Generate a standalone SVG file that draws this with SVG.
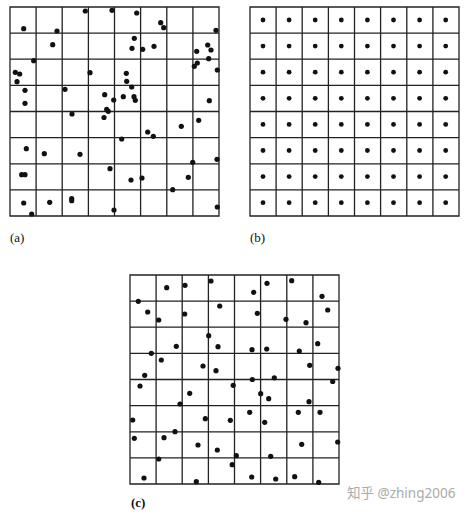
<svg xmlns="http://www.w3.org/2000/svg" width="467" height="518" viewBox="0 0 467 518">
<defs>
<style>
.grid{fill:none;stroke:#222;stroke-width:1.3}
.d{fill:#111}
.d circle{r:2.6px}
.db circle{fill:#111;r:2.4px}
.lbl{font-family:"Liberation Serif",serif;font-size:13px;fill:#111}
.wm{font-family:"Noto Sans","Noto Sans CJK SC",sans-serif;font-size:13.5px;fill:#aaa}
</style>
<path id="g8" d="M0,0H209V209H0Z M26.1,0V209 M52.2,0V209 M78.4,0V209 M104.5,0V209 M130.6,0V209 M156.8,0V209 M182.9,0V209 M0,26.1H209 M0,52.2H209 M0,78.4H209 M0,104.5H209 M0,130.6H209 M0,156.8H209 M0,182.9H209"/>
</defs>
<rect width="467" height="518" fill="#fff"/>
<g id="grid-a">
<use href="#g8" x="10" y="7" class="grid"/>
<g class="d">
<circle cx="85.3" cy="11" r="2.6"/><circle cx="112" cy="10.3" r="2.6"/><circle cx="23.7" cy="28.7" r="2.6"/><circle cx="57" cy="31" r="2.6"/><circle cx="52.7" cy="44.7" r="2.6"/><circle cx="33.7" cy="60.7" r="2.6"/><circle cx="15.3" cy="72.3" r="2.6"/><circle cx="19.7" cy="74" r="2.6"/><circle cx="17" cy="81.7" r="2.6"/><circle cx="90" cy="72.7" r="2.6"/><circle cx="25" cy="90.3" r="2.6"/><circle cx="65" cy="89.3" r="2.6"/><circle cx="104.7" cy="94.7" r="2.6"/><circle cx="113.7" cy="100" r="2.6"/><circle cx="25" cy="103.3" r="2.6"/><circle cx="106.7" cy="109.3" r="2.6"/><circle cx="108.3" cy="111.3" r="2.6"/><circle cx="72" cy="114" r="2.6"/><circle cx="104" cy="117.5" r="2.6"/>
<circle cx="136.7" cy="13" r="2.6"/><circle cx="160.7" cy="22.7" r="2.6"/><circle cx="163.7" cy="27.7" r="2.6"/><circle cx="216" cy="30.3" r="2.6"/><circle cx="134.3" cy="38.3" r="2.6"/><circle cx="132" cy="48.3" r="2.6"/><circle cx="142.7" cy="49.3" r="2.6"/><circle cx="154" cy="46.3" r="2.6"/><circle cx="207.7" cy="45" r="2.6"/><circle cx="211" cy="50" r="2.6"/><circle cx="196.7" cy="51.3" r="2.6"/><circle cx="208.7" cy="58.7" r="2.6"/><circle cx="197.3" cy="63" r="2.6"/><circle cx="194.3" cy="66.3" r="2.6"/><circle cx="217.3" cy="70" r="2.6"/><circle cx="126.3" cy="73.3" r="2.6"/><circle cx="126.7" cy="81.3" r="2.6"/><circle cx="131.7" cy="87" r="2.6"/><circle cx="123.3" cy="96.7" r="2.6"/><circle cx="134" cy="96.7" r="2.6"/><circle cx="135.3" cy="100.3" r="2.6"/><circle cx="209.3" cy="100.7" r="2.6"/>
<circle cx="26.3" cy="148.7" r="2.6"/><circle cx="44.3" cy="153.7" r="2.6"/><circle cx="80" cy="154.3" r="2.6"/><circle cx="110" cy="168.7" r="2.6"/><circle cx="21.7" cy="174.7" r="2.6"/><circle cx="25" cy="174.7" r="2.6"/><circle cx="23.7" cy="203" r="2.6"/><circle cx="49.7" cy="202.3" r="2.6"/><circle cx="71.7" cy="198.7" r="2.6"/><circle cx="71.7" cy="200.7" r="2.6"/><circle cx="114" cy="210" r="2.6"/><circle cx="31.7" cy="214" r="2.6"/>
<circle cx="198.7" cy="120.3" r="2.6"/><circle cx="181.3" cy="126.3" r="2.6"/><circle cx="147.7" cy="132" r="2.6"/><circle cx="153.3" cy="136.3" r="2.6"/><circle cx="121.7" cy="139" r="2.6"/><circle cx="217" cy="159.3" r="2.6"/><circle cx="192.7" cy="162.3" r="2.6"/><circle cx="131" cy="180" r="2.6"/><circle cx="142" cy="178" r="2.6"/><circle cx="188.3" cy="177.3" r="2.6"/><circle cx="172.7" cy="189.7" r="2.6"/><circle cx="217.3" cy="207" r="2.6"/>
</g>
<text class="lbl" x="10" y="242">(a)</text>
</g>
<g id="grid-b">
<use href="#g8" x="250" y="7" class="grid"/>
<g class="db">
<circle cx="263" cy="20" r="2.4"/><circle cx="289.1" cy="20" r="2.4"/><circle cx="315.2" cy="20" r="2.4"/><circle cx="341.3" cy="20" r="2.4"/><circle cx="367.4" cy="20" r="2.4"/><circle cx="393.5" cy="20" r="2.4"/><circle cx="419.6" cy="20" r="2.4"/><circle cx="445.7" cy="20" r="2.4"/>
<circle cx="263" cy="46.1" r="2.4"/><circle cx="289.1" cy="46.1" r="2.4"/><circle cx="315.2" cy="46.1" r="2.4"/><circle cx="341.3" cy="46.1" r="2.4"/><circle cx="367.4" cy="46.1" r="2.4"/><circle cx="393.5" cy="46.1" r="2.4"/><circle cx="419.6" cy="46.1" r="2.4"/><circle cx="445.7" cy="46.1" r="2.4"/>
<circle cx="263" cy="72.2" r="2.4"/><circle cx="289.1" cy="72.2" r="2.4"/><circle cx="315.2" cy="72.2" r="2.4"/><circle cx="341.3" cy="72.2" r="2.4"/><circle cx="367.4" cy="72.2" r="2.4"/><circle cx="393.5" cy="72.2" r="2.4"/><circle cx="419.6" cy="72.2" r="2.4"/><circle cx="445.7" cy="72.2" r="2.4"/>
<circle cx="263" cy="98.3" r="2.4"/><circle cx="289.1" cy="98.3" r="2.4"/><circle cx="315.2" cy="98.3" r="2.4"/><circle cx="341.3" cy="98.3" r="2.4"/><circle cx="367.4" cy="98.3" r="2.4"/><circle cx="393.5" cy="98.3" r="2.4"/><circle cx="419.6" cy="98.3" r="2.4"/><circle cx="445.7" cy="98.3" r="2.4"/>
<circle cx="263" cy="124.4" r="2.4"/><circle cx="289.1" cy="124.4" r="2.4"/><circle cx="315.2" cy="124.4" r="2.4"/><circle cx="341.3" cy="124.4" r="2.4"/><circle cx="367.4" cy="124.4" r="2.4"/><circle cx="393.5" cy="124.4" r="2.4"/><circle cx="419.6" cy="124.4" r="2.4"/><circle cx="445.7" cy="124.4" r="2.4"/>
<circle cx="263" cy="150.5" r="2.4"/><circle cx="289.1" cy="150.5" r="2.4"/><circle cx="315.2" cy="150.5" r="2.4"/><circle cx="341.3" cy="150.5" r="2.4"/><circle cx="367.4" cy="150.5" r="2.4"/><circle cx="393.5" cy="150.5" r="2.4"/><circle cx="419.6" cy="150.5" r="2.4"/><circle cx="445.7" cy="150.5" r="2.4"/>
<circle cx="263" cy="176.6" r="2.4"/><circle cx="289.1" cy="176.6" r="2.4"/><circle cx="315.2" cy="176.6" r="2.4"/><circle cx="341.3" cy="176.6" r="2.4"/><circle cx="367.4" cy="176.6" r="2.4"/><circle cx="393.5" cy="176.6" r="2.4"/><circle cx="419.6" cy="176.6" r="2.4"/><circle cx="445.7" cy="176.6" r="2.4"/>
<circle cx="263" cy="202.7" r="2.4"/><circle cx="289.1" cy="202.7" r="2.4"/><circle cx="315.2" cy="202.7" r="2.4"/><circle cx="341.3" cy="202.7" r="2.4"/><circle cx="367.4" cy="202.7" r="2.4"/><circle cx="393.5" cy="202.7" r="2.4"/><circle cx="419.6" cy="202.7" r="2.4"/><circle cx="445.7" cy="202.7" r="2.4"/>
</g>
<text class="lbl" x="250" y="242">(b)</text>
</g>
<g id="grid-c">
<use href="#g8" x="130" y="275" class="grid"/>
<g class="d">
<circle cx="166.7" cy="287.7" r="2.6"/><circle cx="185" cy="285.3" r="2.6"/><circle cx="211" cy="281" r="2.6"/><circle cx="138.3" cy="301.3" r="2.6"/><circle cx="147.7" cy="312" r="2.6"/><circle cx="158.7" cy="320" r="2.6"/><circle cx="184.7" cy="314" r="2.6"/><circle cx="219.7" cy="306" r="2.6"/><circle cx="208.7" cy="335.7" r="2.6"/><circle cx="218" cy="346.7" r="2.6"/><circle cx="176.3" cy="346.3" r="2.6"/><circle cx="151.3" cy="353.3" r="2.6"/><circle cx="161.3" cy="360" r="2.6"/><circle cx="203" cy="366" r="2.6"/><circle cx="216" cy="370.7" r="2.6"/><circle cx="144.7" cy="375.3" r="2.6"/>
<circle cx="267" cy="283.3" r="2.6"/><circle cx="291.7" cy="280.7" r="2.6"/><circle cx="253.7" cy="292.3" r="2.6"/><circle cx="322" cy="296.3" r="2.6"/><circle cx="327.7" cy="310" r="2.6"/><circle cx="257.3" cy="313.3" r="2.6"/><circle cx="286" cy="319.3" r="2.6"/><circle cx="306" cy="322.7" r="2.6"/><circle cx="252" cy="349.7" r="2.6"/><circle cx="266.7" cy="349" r="2.6"/><circle cx="299.3" cy="351" r="2.6"/><circle cx="317.7" cy="343.7" r="2.6"/><circle cx="309.7" cy="365.3" r="2.6"/><circle cx="338" cy="368.3" r="2.6"/><circle cx="252.3" cy="379.5" r="2.6"/><circle cx="274.3" cy="377.8" r="2.6"/><circle cx="332.7" cy="381.5" r="2.6"/>
<circle cx="140" cy="386" r="2.6"/><circle cx="189.7" cy="393.3" r="2.6"/><circle cx="180" cy="404" r="2.6"/><circle cx="233.2" cy="385.3" r="2.6"/><circle cx="132.7" cy="420" r="2.6"/><circle cx="205.3" cy="418.7" r="2.6"/><circle cx="230.3" cy="420.3" r="2.6"/><circle cx="134.3" cy="438.3" r="2.6"/><circle cx="164" cy="437.7" r="2.6"/><circle cx="175" cy="431.7" r="2.6"/><circle cx="198" cy="445" r="2.6"/><circle cx="217.3" cy="450" r="2.6"/><circle cx="236.3" cy="455.7" r="2.6"/><circle cx="158.7" cy="459" r="2.6"/><circle cx="232.2" cy="464.7" r="2.6"/><circle cx="144" cy="478" r="2.6"/><circle cx="196.3" cy="481.7" r="2.6"/>
<circle cx="260.7" cy="393.7" r="2.6"/><circle cx="268.7" cy="398.7" r="2.6"/><circle cx="309" cy="401.7" r="2.6"/><circle cx="249.7" cy="412.3" r="2.6"/><circle cx="298.3" cy="412.3" r="2.6"/><circle cx="320" cy="412.3" r="2.6"/><circle cx="264.7" cy="422.3" r="2.6"/><circle cx="301.7" cy="444.3" r="2.6"/><circle cx="337.7" cy="442" r="2.6"/><circle cx="270.7" cy="456.3" r="2.6"/><circle cx="251.7" cy="477" r="2.6"/><circle cx="275.7" cy="479" r="2.6"/><circle cx="294.7" cy="476.7" r="2.6"/><circle cx="318.7" cy="482.3" r="2.6"/>
</g>
<text class="lbl" x="131" y="507" font-weight="bold">(c)</text>
</g>
<text class="wm" x="347" y="498">知乎 @zhing2006</text>
</svg>
